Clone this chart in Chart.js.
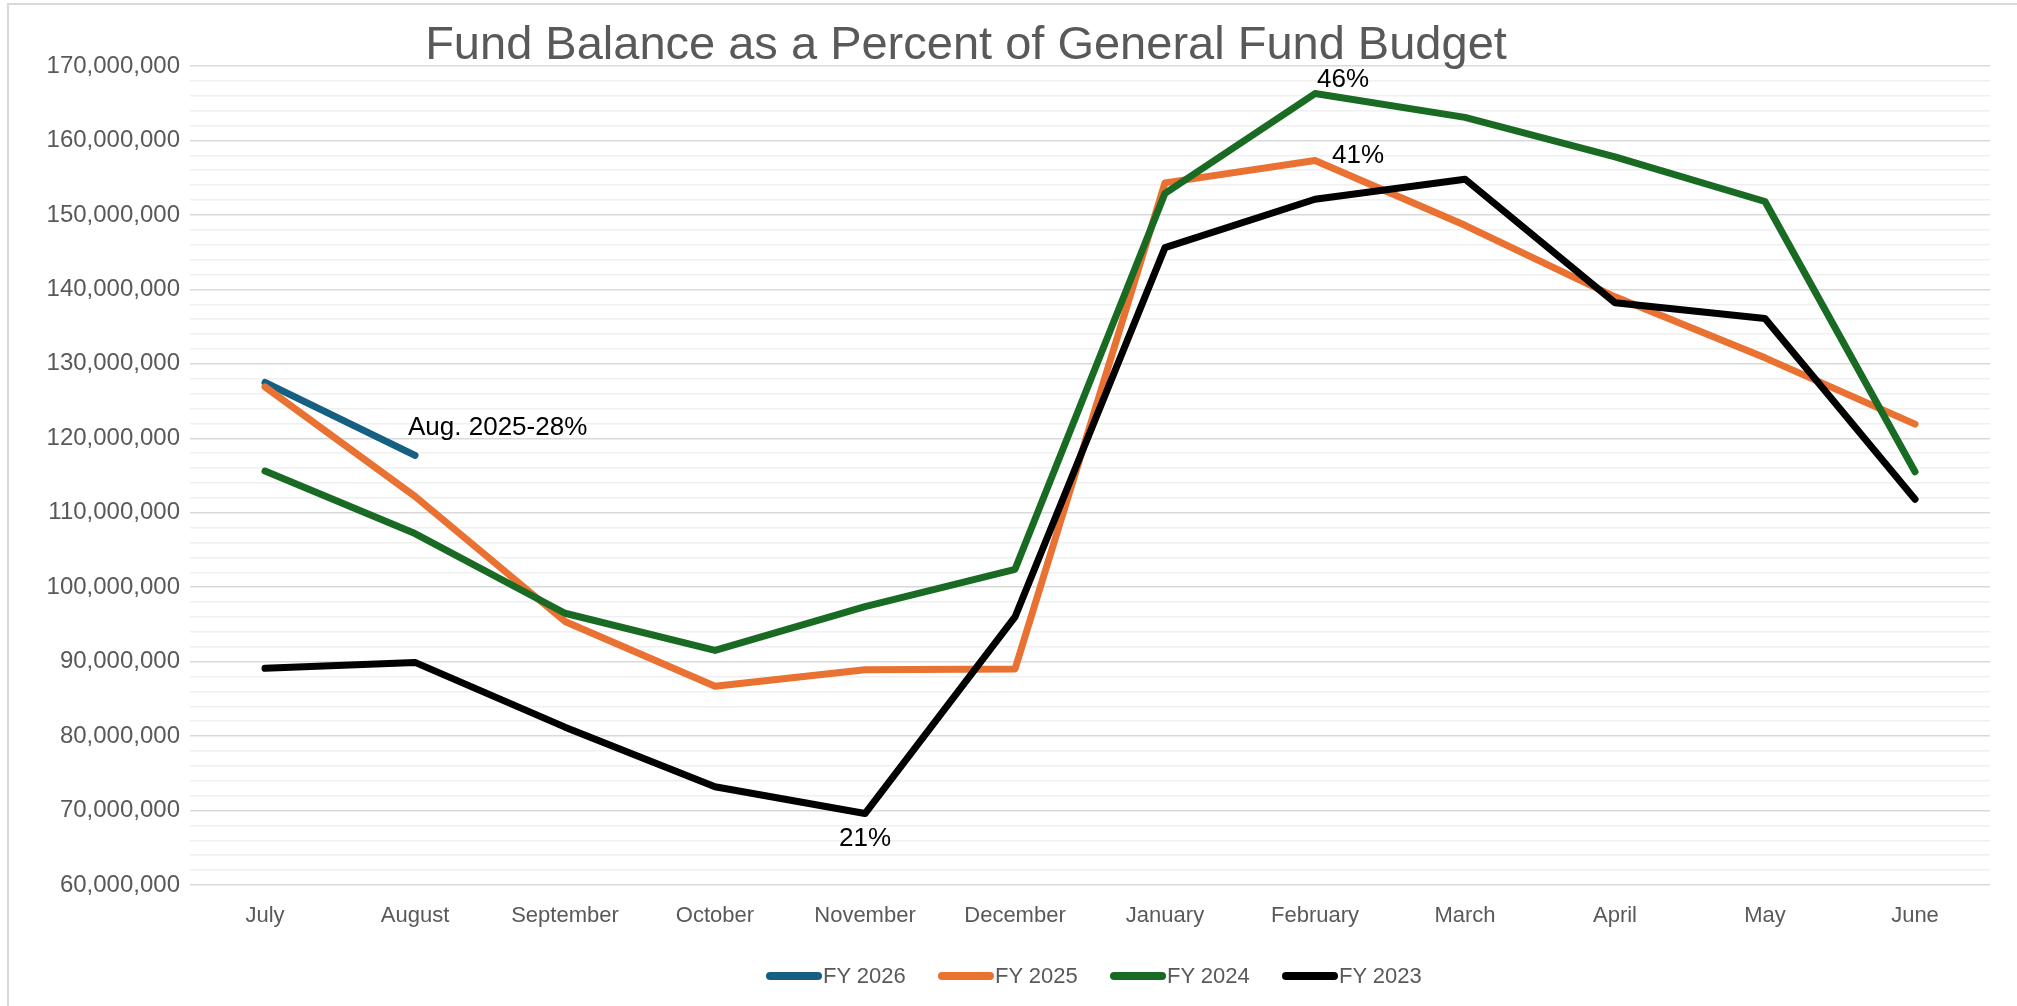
<!DOCTYPE html>
<html lang="en">

<head>
    <meta charset="UTF-8">
    <title>Fund Balance</title>
    <script src="https://cdn.jsdelivr.net/npm/chart.js@4.4.1/dist/chart.umd.min.js"></script>
    <style>
        body { margin: 0; background: #fff; overflow: hidden; width: 2017px; height: 1006px; position: relative; }
        #frame { position: absolute; left: 7px; top: 3px; width: 2100px; height: 1100px; border: 2px solid #d9d9d9; }
        #chart { position: absolute; left: 0; top: 0; }
        #title { position: absolute; left: 0; top: 15px; width: 1932px; text-align: center; white-space: nowrap;
            font: 47px "Liberation Sans", sans-serif; color: #595959; }
        #legend { position: absolute; left: 766px; top: 963px; display: flex; }
        .item { display: inline-flex; align-items: center; width: 172px; white-space: nowrap;
            font: 22px "Liberation Sans", sans-serif; color: #595959; }
        .sw { display: inline-block; width: 56px; height: 8px; border-radius: 4px; margin-right: 1px; }
    </style>
</head>

<body>
    <div id="frame"></div>
    <canvas id="chart" width="2017" height="1006"></canvas>
    <div id="title">Fund Balance as a Percent of General Fund Budget</div>
    <div id="legend"></div>
    <script>
        // months of the fiscal year
        const months = ['July', 'August', 'September', 'October', 'November', 'December',
            'January', 'February', 'March', 'April', 'May', 'June'];

        // fund balance in dollars
        const fy2026 = [127500000, 117700000, null, null, null, null, null, null, null, null, null, null];
        const fy2025 = [126900000, 112200000, 95400000, 86700000, 88900000, 89000000,
            154300000, 157300000, 148600000, 139000000, 130800000, 121900000];
        const fy2024 = [115600000, 107200000, 96500000, 91500000, 97400000, 102400000,
            152900000, 166300000, 163100000, 157800000, 151800000, 115500000];
        const fy2023 = [89100000, 89900000, 81200000, 73200000, 69600000, 96000000,
            145600000, 152100000, 154800000, 138200000, 136100000, 111800000];

        const seriesNames = ['FY 2026', 'FY 2025', 'FY 2024', 'FY 2023'];
        const seriesColors = ['#156082', '#E97132', '#196B24', '#000000'];
        const seriesData = [fy2026, fy2025, fy2024, fy2023];

        // y axis
        const yMin = 60000000;
        const yMax = 170000000;
        const yMinor = 2000000;
        const yMajor = 10000000;

        // percent labels: series, month index, text
        const notes = [
            { series: 0, idx: 1, text: 'Aug. 2025-28%', dx: -7, dy: -28, align: 'left' },
            { series: 2, idx: 7, text: '46%', dx: 2, dy: -14, align: 'left' },
            { series: 1, idx: 7, text: '41%', dx: 17, dy: -5, align: 'left' },
            { series: 3, idx: 4, text: '21%', dx: 0, dy: 25, align: 'center' }
        ];

        const notePlugin = {
            id: 'notes',
            afterDatasetsDraw(chart) {
                const ctx = chart.ctx;
                ctx.save();
                ctx.font = '26px "Liberation Sans", sans-serif';
                ctx.fillStyle = '#000';
                ctx.textBaseline = 'middle';
                notes.forEach(n => {
                    const pt = chart.getDatasetMeta(n.series).data[n.idx];
                    ctx.textAlign = n.align;
                    ctx.fillText(n.text, pt.x + n.dx, pt.y + n.dy);
                });
                ctx.restore();
            }
        };

        // legend in html
        const legend = document.getElementById('legend');
        seriesNames.forEach((name, i) => {
            const it = document.createElement('span');
            it.className = 'item';
            it.innerHTML = '<span class="sw" style="background:' + seriesColors[i] + '"></span>' + name;
            legend.appendChild(it);
        });

        const datasets = seriesNames.map((name, i) => ({
            label: name,
            data: seriesData[i],
            borderColor: seriesColors[i],
            backgroundColor: seriesColors[i],
            borderWidth: 7,
            pointRadius: 0,
            pointHoverRadius: 0,
            tension: 0,
            fill: false,
            borderCapStyle: 'round',
            borderJoinStyle: 'round',
            order: seriesNames.length - i
        }));

        new Chart(document.getElementById('chart'), {
            type: 'line',
            data: { labels: months, datasets: datasets },
            plugins: [notePlugin],
            options: {
                responsive: false,
                animation: false,
                devicePixelRatio: 1,
                layout: { padding: { top: 66, bottom: 0, left: 0, right: 27 } },
                plugins: {
                    legend: { display: false },
                    tooltip: { enabled: false }
                },
                scales: {
                    x: {
                        offset: true,
                        afterFit(scale) { scale.height = 121; },
                        grid: { display: false, drawTicks: false },
                        border: { display: false },
                        ticks: {
                            padding: 18,
                            color: '#595959',
                            font: { family: '"Liberation Sans", sans-serif', size: 22 }
                        }
                    },
                    y: {
                        min: yMin,
                        max: yMax,
                        afterFit(scale) { scale.width = 190; },
                        border: { display: false },
                        grid: {
                            drawTicks: false,
                            lineWidth: 1.5,
                            color: c => (c.tick && c.tick.value % yMajor === 0) ? '#d9d9d9' : '#f0f0f0'
                        },
                        ticks: {
                            stepSize: yMinor,
                            autoSkip: false,
                            maxTicksLimit: 100,
                            padding: 10,
                            color: '#595959',
                            font: { family: '"Liberation Sans", sans-serif', size: 24 },
                            callback: v => v % yMajor === 0 ? v.toLocaleString('en-US') : ''
                        }
                    }
                }
            }
        });
    </script>
</body>

</html>
